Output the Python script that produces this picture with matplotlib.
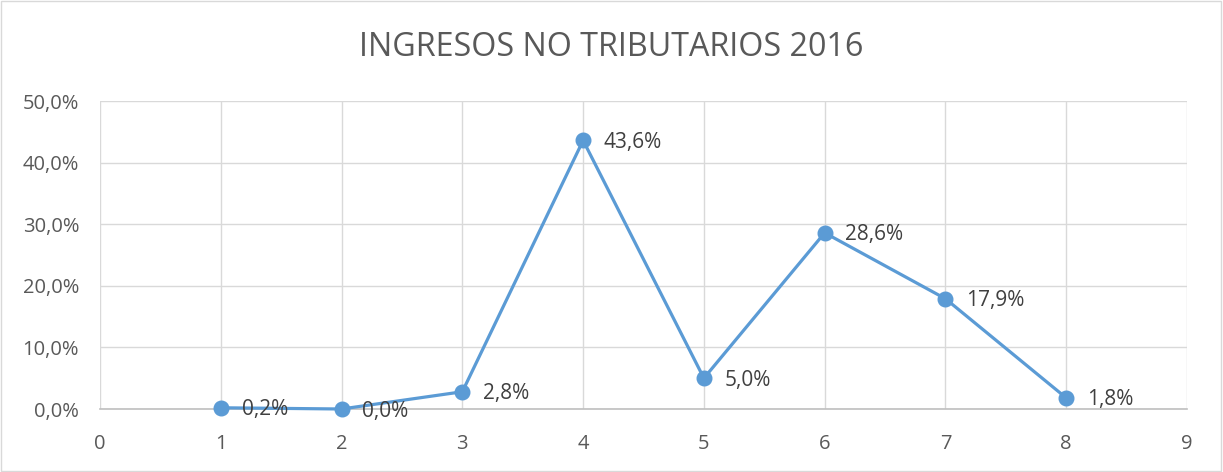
import numpy as np
import matplotlib.pyplot as plt

# data
x_vals = [1, 2, 3, 4, 5, 6, 7, 8]
pct = [0.2, 0.0, 2.8, 43.6, 5.0, 28.6, 17.9, 1.8]
y_ticks = [0, 10, 20, 30, 40, 50]
x_ticks = [0, 1, 2, 3, 4, 5, 6, 7, 8, 9]

blue = '#5B9BD5'
text_c = '#595959'
grid_c = '#D9D9D9'

plt.rcParams['font.family'] = ['Open Sans', 'DejaVu Sans']

fig = plt.figure(figsize=(12.23, 4.72), dpi=100)
ax = fig.add_axes([100/1223, 1 - 409/472, 1087/1223, 308/472])

ax.plot(x_vals, pct, color=blue, lw=2.3, marker='o', ms=10.5, zorder=3,
        clip_on=False)
for xv, yv in zip(x_vals, pct):
    ax.annotate(f'{yv:.1f}%'.replace('.', ','), (xv, yv), xytext=(15, -1.5),
                textcoords='offset points', ha='left', va='center',
                fontsize=15, color='#404040', zorder=4)

ax.set_xlim(0, 9)
ax.set_ylim(0, 50)
ax.set_xticks(x_ticks)
ax.set_yticks(y_ticks)
ax.set_yticklabels([f'{v:.1f}%'.replace('.', ',') for v in y_ticks])
ax.tick_params(length=0, labelsize=14.5, labelcolor=text_c)
ax.tick_params(axis='y', pad=15)
ax.tick_params(axis='x', pad=18)
ax.grid(True, color=grid_c, lw=1)
ax.set_axisbelow(True)
for side in ['top', 'right', 'left']:
    ax.spines[side].set_visible(False)
ax.spines['bottom'].set_color('#BFBFBF')
ax.spines['bottom'].set_linewidth(1.2)

fig.text(0.5, 1 - 47/472, 'INGRESOS NO TRIBUTARIOS 2016', ha='center',
         va='center', fontsize=23.2, color=text_c)

# outer chart border
fig.patches.append(plt.Rectangle((0.001, 0.002), 0.997, 0.995,
                                 transform=fig.transFigure, fill=False,
                                 edgecolor='#D9D9D9', lw=1))

fig.savefig('out.png', dpi=100)
